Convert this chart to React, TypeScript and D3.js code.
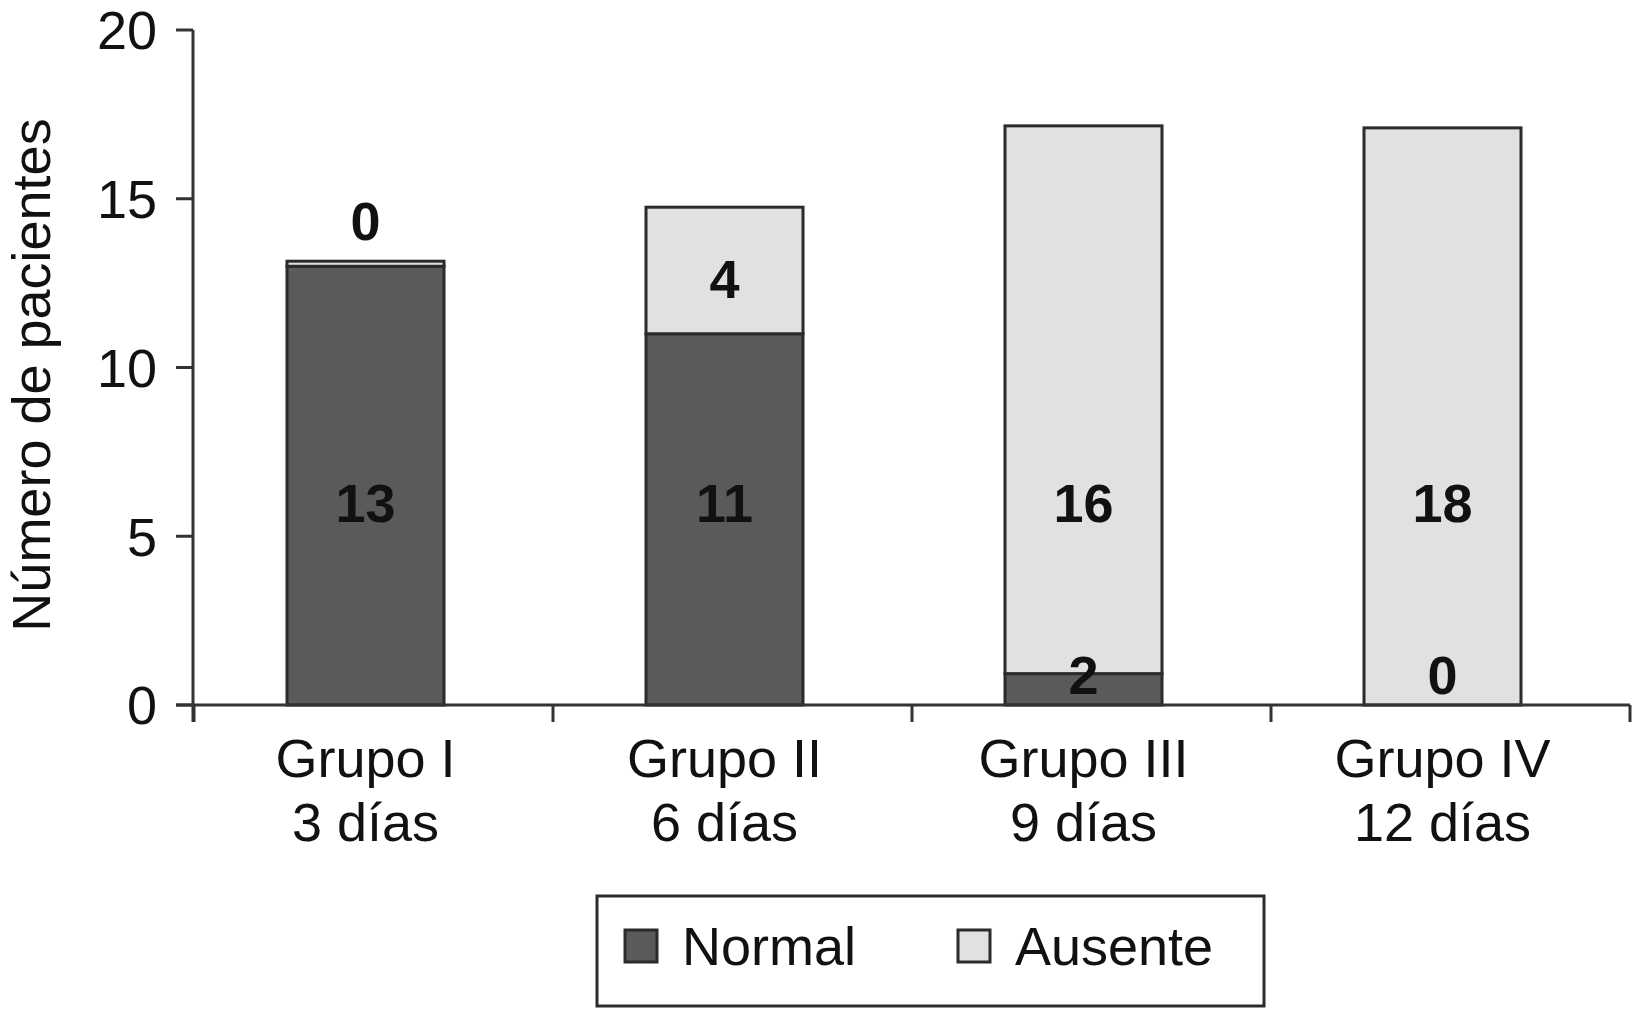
import React from "react";
import * as d3 from "d3";

const categories = ["Grupo I", "Grupo II", "Grupo III", "Grupo IV"];
const subLabels = ["3 días", "6 días", "9 días", "12 días"];
const normalValues = [13.0, 11.0, 0.93, 0];
const ausenteValues = [0.15, 3.75, 16.23, 17.1];
const normalLabels = ["13", "11", "2", "0"];
const ausenteLabels = ["0", "4", "16", "18"];
const normalLabelAt = [6, 6, 0.9, 0.9];
const ausenteLabelAt = [14.35, 12.65, 6, 6];
const yTicks = [0, 5, 10, 15, 20];
const seriesNames = ["Normal", "Ausente"];

const W = 1632;
const H = 1009;
const FONT = "'Liberation Sans', Arial, Helvetica, sans-serif";
const C_NORMAL = "#5a5a5a";
const C_AUSENTE = "#e1e1e1";
const C_STROKE = "#2b2b2b";

export default function App() {
  const x = d3.scaleBand<string>().domain(categories).range([194, 1630]);
  const y = d3.scaleLinear().domain([0, 20]).range([705, 30]);
  const barW = 157;
  const barOffset = -8;
  const cx = (c: string) => (x(c) as number) + x.bandwidth() / 2 + barOffset;

  const stacked = categories.map((c, i) => ({
    c,
    n0: 0,
    n1: normalValues[i],
    a0: normalValues[i],
    a1: normalValues[i] + ausenteValues[i],
  }));

  const boundaries = categories.map((c) => x(c) as number).concat([x.range()[1]]);

  return (
    <svg
      width={W}
      height={H}
      style={{ position: "absolute", left: 0, top: 0, background: "#fff" }}
      fontFamily={FONT}
    >
      {/* bars */}
      {stacked.map((d) => (
        <g key={d.c}>
          {d.n1 - d.n0 > 0 && (
            <rect
              x={cx(d.c) - barW / 2}
              y={y(d.n1)}
              width={barW}
              height={y(d.n0) - y(d.n1)}
              fill={C_NORMAL}
              stroke={C_STROKE}
              strokeWidth={3}
            />
          )}
          <rect
            x={cx(d.c) - barW / 2}
            y={y(d.a1)}
            width={barW}
            height={y(d.a0) - y(d.a1)}
            fill={C_AUSENTE}
            stroke={C_STROKE}
            strokeWidth={3}
          />
        </g>
      ))}

      {/* value labels */}
      {categories.map((c, i) => (
        <g key={"lab" + c} fontWeight="bold" fontSize={54} fill="#111" textAnchor="middle">
          <text x={cx(c)} y={y(normalLabelAt[i])} dy="0.36em">
            {normalLabels[i]}
          </text>
          <text x={cx(c)} y={y(ausenteLabelAt[i])} dy="0.36em">
            {ausenteLabels[i]}
          </text>
        </g>
      ))}

      {/* y axis */}
      <line x1={193} x2={193} y1={y(20)} y2={y(0) + 17} stroke="#333" strokeWidth={3} />
      {yTicks.map((t) => (
        <g key={t}>
          <line x1={176} x2={193} y1={y(t)} y2={y(t)} stroke="#333" strokeWidth={3} />
          <text x={157} y={y(t)} dy="0.36em" textAnchor="end" fontSize={54} fill="#111">
            {t}
          </text>
        </g>
      ))}
      <text
        transform={`translate(50,375) rotate(-90)`}
        textAnchor="middle"
        fontSize={54}
        fill="#111"
      >
        Número de pacientes
      </text>

      {/* x axis */}
      <line x1={176} x2={x.range()[1]} y1={y(0)} y2={y(0)} stroke="#333" strokeWidth={3} />
      {boundaries.map((b, i) => (
        <line key={"xt" + i} x1={b} x2={b} y1={y(0)} y2={y(0) + 17} stroke="#333" strokeWidth={3} />
      ))}
      {categories.map((c, i) => (
        <g key={"xl" + c} fontSize={54} fill="#111" textAnchor="middle">
          <text x={cx(c)} y={777}>
            {c}
          </text>
          <text x={cx(c)} y={841}>
            {subLabels[i]}
          </text>
        </g>
      ))}

      {/* legend */}
      <rect x={597} y={896} width={667} height={110} fill="#fff" stroke={C_STROKE} strokeWidth={3} />
      <rect x={625} y={930} width={32} height={32} fill={C_NORMAL} stroke={C_STROKE} strokeWidth={3} />
      <text x={682} y={965} fontSize={54} fill="#111">
        {seriesNames[0]}
      </text>
      <rect x={958} y={930} width={32} height={32} fill={C_AUSENTE} stroke={C_STROKE} strokeWidth={3} />
      <text x={1015} y={965} fontSize={54} fill="#111">
        {seriesNames[1]}
      </text>
    </svg>
  );
}
